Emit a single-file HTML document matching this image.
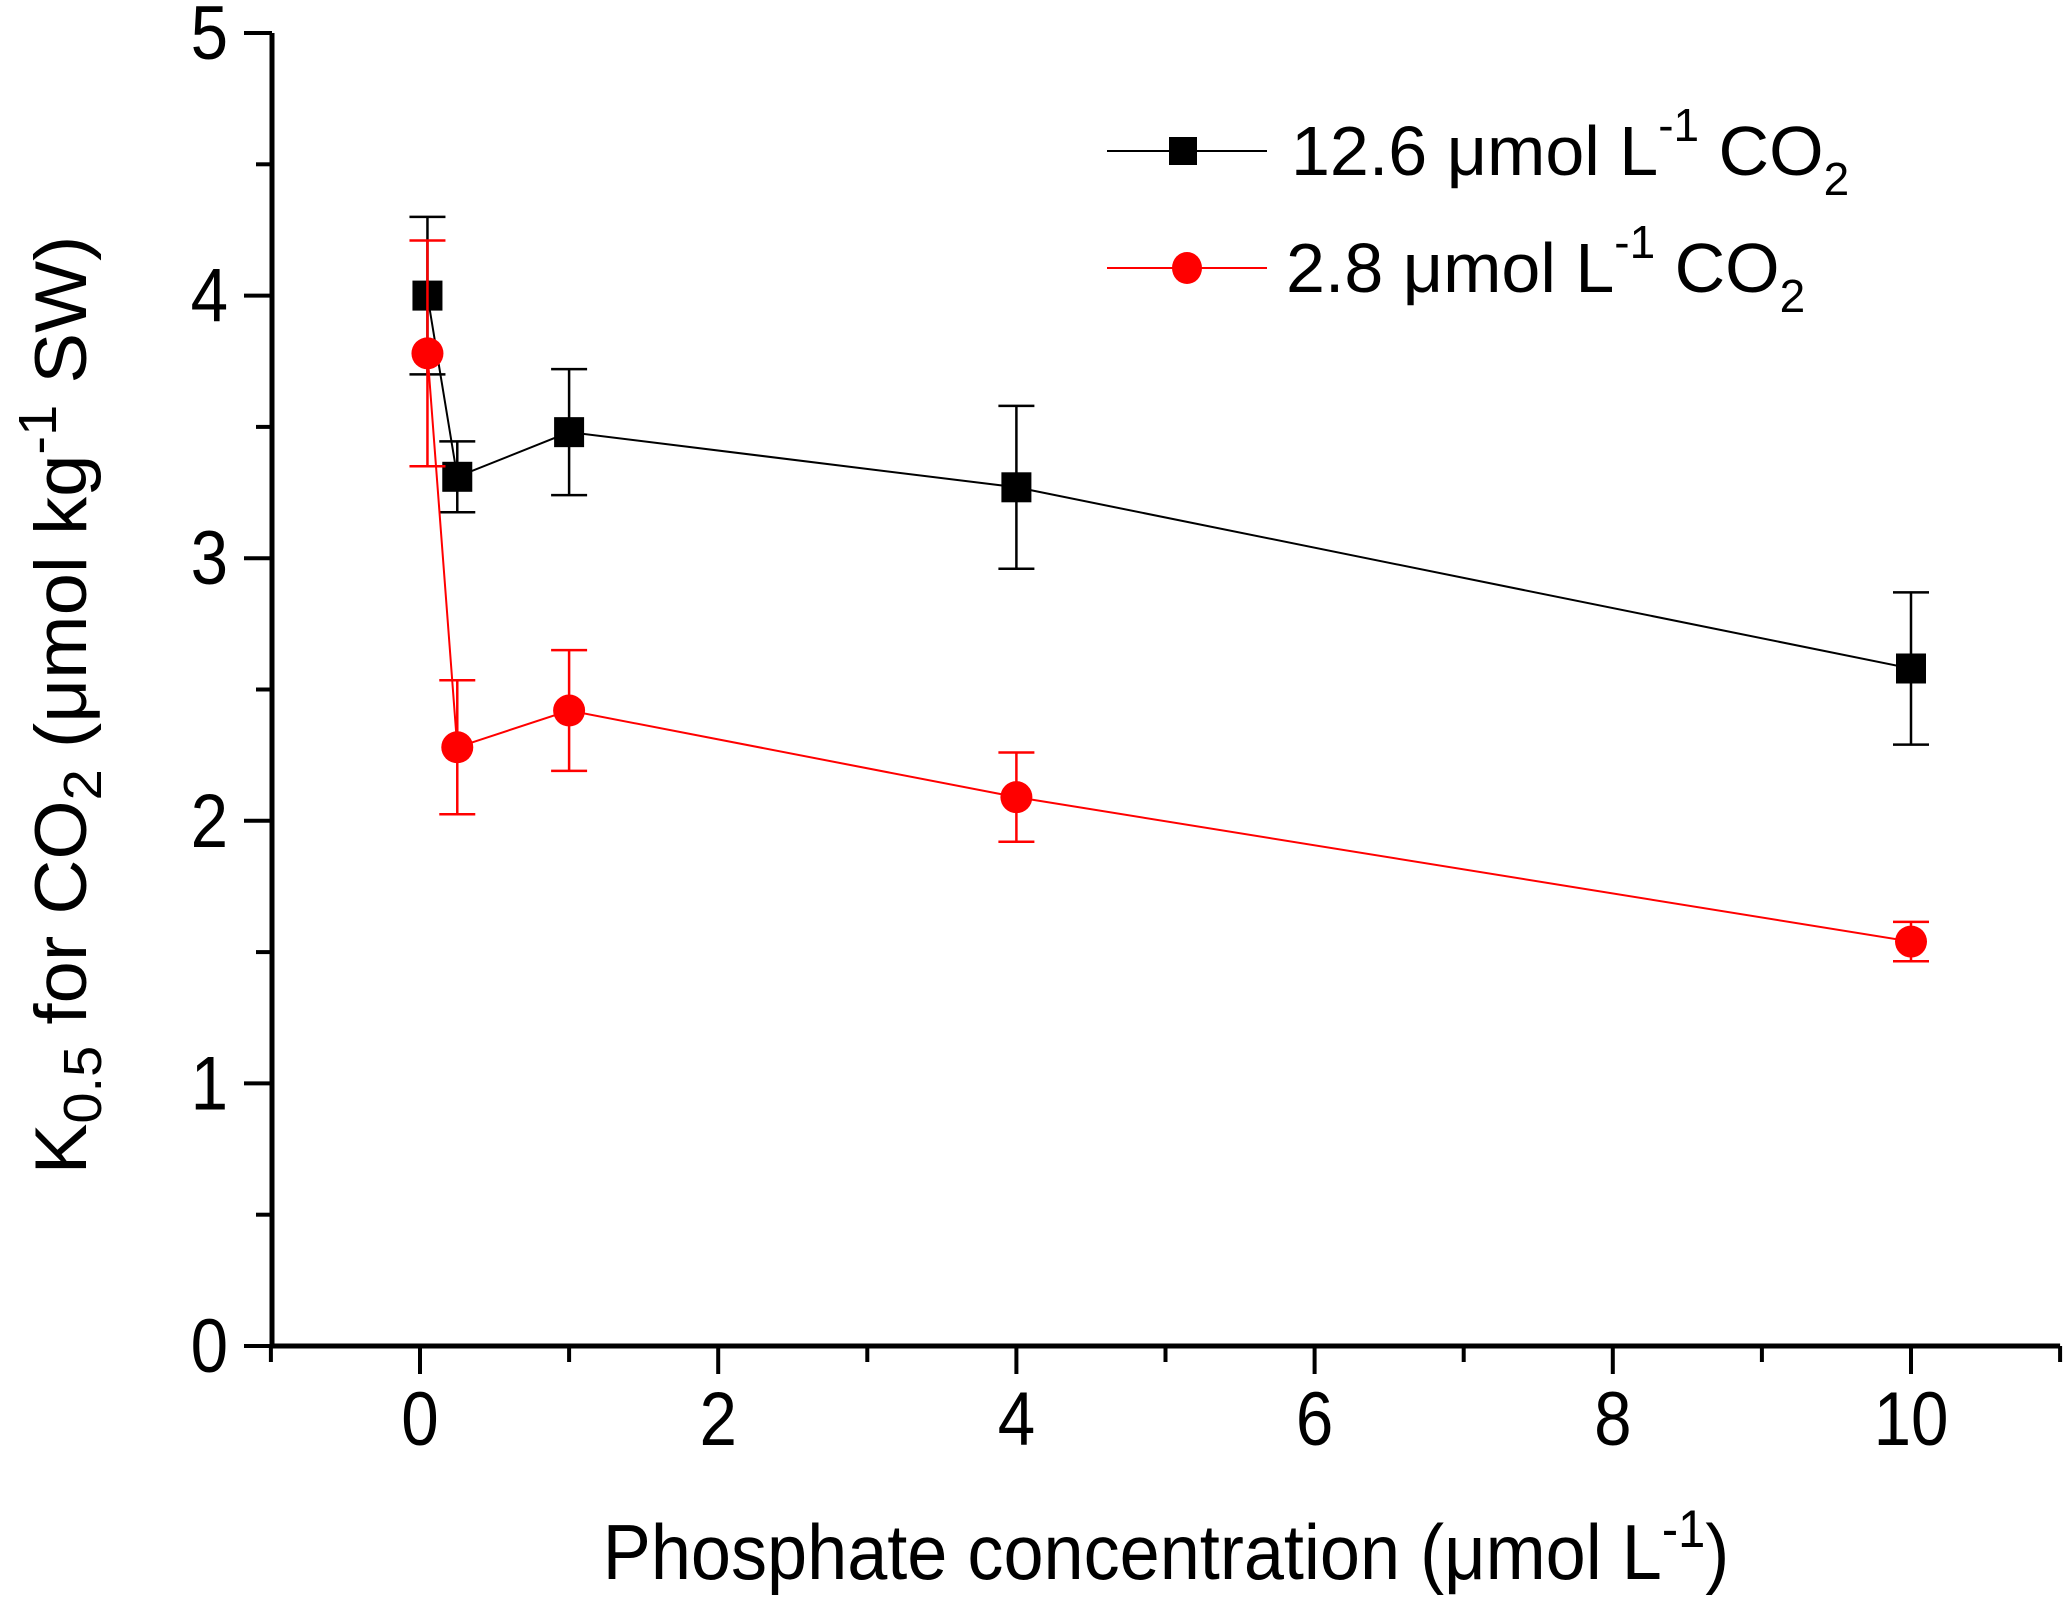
<!DOCTYPE html>
<html><head><meta charset="utf-8"><style>
html,body{margin:0;padding:0;background:#fff;}
svg{display:block;font-family:"Liberation Sans",Arial,sans-serif;}
</style></head><body>
<svg id="chart" width="2067" height="1599" viewBox="0 0 2067 1599" xmlns="http://www.w3.org/2000/svg">
<g id="axes"></g>
<g id="series"></g>
<text transform="translate(86,705) rotate(-90) scale(1.12,1.08)" text-anchor="middle" font-size="68">K<tspan font-size="50" dy="14">0.5</tspan><tspan dy="-14"> for CO</tspan><tspan font-size="50" dy="14">2</tspan><tspan dy="-14"> (μmol kg</tspan><tspan font-size="50" dy="-28">-1</tspan><tspan dy="28"> SW)</tspan></text>
<text transform="translate(1166,1579) scale(1.06,1.15)" x="0" y="0" text-anchor="middle" font-size="68">Phosphate concentration (μmol L<tspan font-size="46" dy="-28">-1</tspan><tspan dy="28">)</tspan></text>
<g>
 <g>
  <line x1="1107" y1="151" x2="1267" y2="151" stroke="#000" stroke-width="2"/>
  <rect x="1169" y="137" width="28" height="28" fill="#000"/>
  <text x="1291" y="175" font-size="70">12.6 μmol L<tspan font-size="46" dy="-34">-1</tspan><tspan dy="34"> CO</tspan><tspan font-size="46" dy="20">2</tspan></text>
 </g>
 <g>
  <line x1="1107" y1="268" x2="1267" y2="268" stroke="#f00" stroke-width="2"/>
  <ellipse cx="1187" cy="268" rx="15" ry="16" fill="#f00"/>
  <text x="1286" y="292" font-size="70">2.8 μmol L<tspan font-size="46" dy="-34">-1</tspan><tspan dy="34"> CO</tspan><tspan font-size="46" dy="20">2</tspan></text>
 </g>
</g>
</svg>
<script>
const xValues = [0.05, 0.25, 1, 4, 10];
const highCO2 = [4.0, 3.31, 3.48, 3.27, 2.58];
const highErr = [0.30, 0.135, 0.24, 0.31, 0.29];
const lowCO2 = [3.78, 2.28, 2.42, 2.09, 1.54];
const lowErr = [0.43, 0.255, 0.23, 0.17, 0.075];
const xTicks = [0, 2, 4, 6, 8, 10];
const yTicks = [0, 1, 2, 3, 4, 5];

const NS = "http://www.w3.org/2000/svg";
function sx(v){ return 420 + (v - 0) * 149.1; }
function sy(v){ return 1346 - v * 262.6; }
function mk(tag, attrs, parent){
  const e = document.createElementNS(NS, tag);
  for (const k in attrs) e.setAttribute(k, attrs[k]);
  parent.appendChild(e); return e;
}
const axes = document.getElementById('axes');
const ser = document.getElementById('series');

let yl = mk('line', {x1:272, y1:sy(5), x2:272, y2:sy(0)+2, stroke:'#000','stroke-width':5}, axes);


let xl = mk('line', {x1:270, y1:sy(0), x2:sx(11), y2:sy(0), stroke:'#000','stroke-width':5}, axes);



for (let v = 0; v <= 5; v += 0.5) {
  const major = Number.isInteger(v);
  const t = mk('line', {x1:272 - (major ? 28 : 16), y1:sy(v), x2:272, y2:sy(v), stroke:'#000','stroke-width':4}, axes);
  
  
}
yTicks.forEach(v => {
  const t = mk('text', {transform:`translate(228,${sy(v)+26}) scale(1.02,1.15)`, 'text-anchor':'end','font-size':66}, axes);
  t.textContent = v;
  
  
});
for (let v = -1; v <= 11; v += 1) {
  const major = (v % 2 === 0);
  const t = mk('line', {x1:sx(v), y1:sy(0), x2:sx(v), y2:sy(0) + (major ? 28 : 16), stroke:'#000','stroke-width':4}, axes);
  
  
}
xTicks.forEach(v => {
  const t = mk('text', {transform:`translate(${sx(v)},1445) scale(1.02,1.15)`, 'text-anchor':'middle','font-size':66}, axes);
  t.textContent = v;
  
  
});

function drawSeries(vals, errs, color, shape, name){
  const g = mk('g', {}, ser);
  
  
  const pts = xValues.map((x,i) => sx(x) + ',' + sy(vals[i])).join(' ');
  const pl = mk('polyline', {points:pts, fill:'none', stroke:color, 'stroke-width':2}, g);
  
  
  xValues.forEach((x,i) => {
    const cx = sx(x), hi = sy(vals[i] + errs[i]), lo = sy(vals[i] - errs[i]);
    const eb = mk('path', {d:`M${cx},${hi}V${lo}M${cx-18},${hi}H${cx+18}M${cx-18},${lo}H${cx+18}`, stroke:color, 'stroke-width':2.5, fill:'none'}, g);
    
    
  });
  xValues.forEach((x,i) => {
    const cx = sx(x), cy = sy(vals[i]);
    let m;
    if (shape === 'square') m = mk('rect', {x:cx-15, y:cy-15, width:30, height:30, fill:color}, g);
    else m = mk('circle', {cx:cx, cy:cy, r:16, fill:color}, g);
    
    
  });
}
drawSeries(highCO2, highErr, '#000', 'square', 'series-12.6');
drawSeries(lowCO2, lowErr, '#f00', 'circle', 'series-2.8');
</script>
</body></html>
